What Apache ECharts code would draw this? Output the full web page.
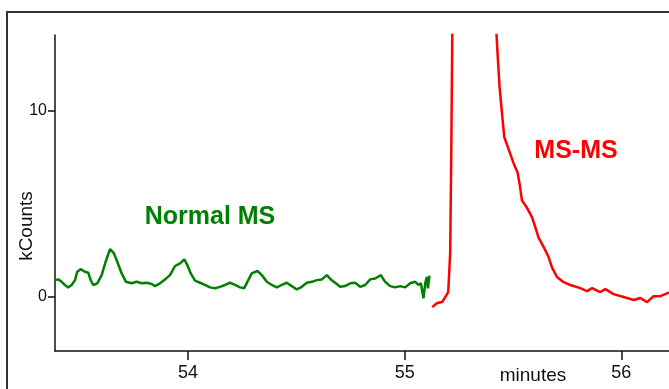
<!DOCTYPE html>
<html>
<head>
<meta charset="utf-8">
<script src="https://cdn.jsdelivr.net/npm/echarts@6/dist/echarts.min.js"></script>
<style>
  html, body { margin: 0; padding: 0; background: #fff; }
  #chart { width: 669px; height: 389px; }
</style>
</head>
<body>
<div id="chart"></div>
<script>
// time in minutes, signal in kCounts
const normalTime = [53.3857, 53.4009, 53.4166, 53.4319, 53.4471, 53.4628, 53.4781, 53.4887, 53.5044, 53.5242,
  53.5395, 53.5506, 53.5626, 53.5811, 53.6014, 53.6199, 53.6397, 53.6582, 53.6734, 53.6938,
  53.7136, 53.7400, 53.7630, 53.7861, 53.8092, 53.8323, 53.8476, 53.8707, 53.8938, 53.9169,
  53.9400, 53.9630, 53.9829, 53.9968, 54.0125, 54.0323, 54.0554, 54.0785, 54.1016, 54.1247,
  54.1478, 54.1709, 54.1940, 54.2171, 54.2402, 54.2587, 54.2739, 54.2942, 54.3201, 54.3404,
  54.3635, 54.3866, 54.4097, 54.4328, 54.4559, 54.4790, 54.5021, 54.5252, 54.5483, 54.5714,
  54.5945, 54.6176, 54.6406, 54.6591, 54.6790, 54.7021, 54.7252, 54.7483, 54.7714, 54.7945,
  54.8176, 54.8406, 54.8637, 54.8901, 54.9099, 54.9330, 54.9561, 54.9792, 55.0023, 55.0254,
  55.0485, 55.0637, 55.0748, 55.0868, 55.0947, 55.1025, 55.1072, 55.1145];
const normalCounts = [0.91, 0.95, 0.82, 0.65, 0.52, 0.65, 0.91, 1.36, 1.5, 1.36,
  1.31, 0.91, 0.65, 0.74, 1.18, 1.9, 2.58, 2.35, 1.9, 1.27,
  0.82, 0.74, 0.82, 0.74, 0.77, 0.7, 0.59, 0.74, 0.95, 1.18,
  1.67, 1.81, 2.03, 1.72, 1.27, 0.88, 0.77, 0.65, 0.52, 0.47,
  0.55, 0.65, 0.77, 0.65, 0.52, 0.47, 0.82, 1.27, 1.41, 1.18,
  0.82, 0.65, 0.52, 0.65, 0.77, 0.59, 0.41, 0.55, 0.77, 0.82,
  0.91, 0.95, 1.18, 0.95, 0.77, 0.55, 0.59, 0.74, 0.77, 0.55,
  0.65, 0.95, 1.0, 1.18, 0.82, 0.59, 0.52, 0.59, 0.52, 0.74,
  0.82, 0.65, 0.74, -0.07, 0.74, 1.09, 0.47, 1.15];

const msmsTime = [55.127, 55.150, 55.173, 55.187, 55.201, 55.210, 55.215, 55.221, 55.320, 55.4226,
  55.4286, 55.4379, 55.4490, 55.4596, 55.4721, 55.4873, 55.5025, 55.5210, 55.5303, 55.5413,
  55.5645, 55.5875, 55.6028, 55.6180, 55.6411, 55.6642, 55.6799, 55.7030, 55.7335, 55.7644,
  55.8106, 55.8416, 55.8647, 55.9030, 55.9261, 55.9644, 56.0106, 56.0568, 56.0878, 56.1187,
  56.1492, 56.1801, 56.2111, 56.2200];
const msmsCounts = [-0.54, -0.32, -0.27, 0, 0.27, 2.37, 7.7, 16, 60, 14.4,
  13.1, 11.3, 9.9, 8.6, 8.2, 7.7, 7.2, 6.7, 6.1, 5.2,
  4.8, 4.3, 3.76, 3.2, 2.7, 2.15, 1.6, 1.08, 0.8, 0.65,
  0.48, 0.32, 0.48, 0.27, 0.43, 0.16, 0, -0.16, -0.05, -0.27,
  0.05, 0.05, 0.2, 0.25];

const xTicks = [54, 55, 56];
const yTicks = [0, 10];

const chart = echarts.init(document.getElementById("chart"));

const zip = (xs, ys) => xs.map((x, i) => [x, ys[i]]);

const axisFont = { fontFamily: "Liberation Sans, Arial", color: "#111" };

const option = {
  animation: false,
  grid: { left: 55, right: 0, top: 35, bottom: 38 },
  xAxis: {
    type: "value",
    min: 53.386,
    max: 56.22,
    axisLine: { onZero: false, lineStyle: { color: "#111", width: 1.5 } },
    axisTick: { customValues: xTicks, length: 9, lineStyle: { color: "#111", width: 1.5 } },
    axisLabel: { customValues: xTicks, margin: 13, fontSize: 18, ...axisFont },
    splitLine: { show: false },
  },
  yAxis: {
    type: "value",
    min: -2.9,
    max: 14.09,
    axisLine: { show: true, onZero: false, lineStyle: { color: "#111", width: 1.5 } },
    axisTick: { show: true, customValues: yTicks, length: 7, lineStyle: { color: "#111", width: 1.5 } },
    axisLabel: { customValues: yTicks, margin: 8, fontSize: 16, ...axisFont },
    splitLine: { show: false },
  },
  series: [
    {
      name: "Normal MS",
      type: "line",
      data: zip(normalTime, normalCounts),
      showSymbol: false,
      clip: true,
      lineStyle: { color: "#008000", width: 2.5 },
    },
    {
      name: "MS-MS",
      type: "line",
      data: zip(msmsTime, msmsCounts),
      showSymbol: false,
      clip: true,
      lineStyle: { color: "#ff0000", width: 2.5 },
    },
  ],
  graphic: [
    // outer frame, runs off the right and bottom edges
    {
      type: "rect",
      shape: { x: 7, y: 12, width: 700, height: 420 },
      style: { fill: "none", stroke: "#333", lineWidth: 2 },
      silent: true,
    },
    {
      type: "text",
      x: 210,
      y: 217,
      style: {
        text: "Normal MS", fill: "#008000", font: "bold 25px Liberation Sans, Arial",
        align: "center", verticalAlign: "middle",
      },
    },
    {
      type: "text",
      x: 576,
      y: 151,
      style: {
        text: "MS-MS", fill: "#ff0000", font: "bold 25px Liberation Sans, Arial",
        align: "center", verticalAlign: "middle",
      },
    },
    {
      type: "text",
      x: 533,
      y: 376,
      style: {
        text: "minutes", fill: "#111", font: "19px Liberation Sans, Arial",
        align: "center", verticalAlign: "middle",
      },
    },
    {
      type: "text",
      x: 27,
      y: 226,
      rotation: Math.PI / 2,
      style: {
        text: "kCounts", fill: "#111", font: "19px Liberation Sans, Arial",
        align: "center", verticalAlign: "middle",
      },
    },
  ],
};

chart.setOption(option);
</script>
</body>
</html>
